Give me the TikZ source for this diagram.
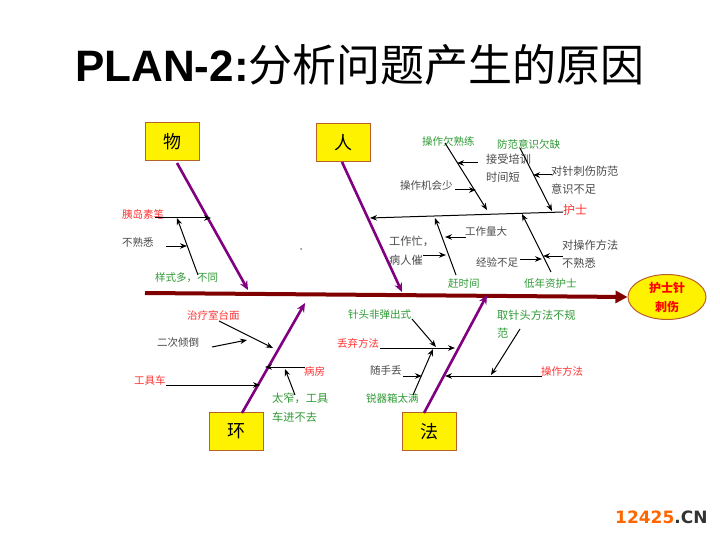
\documentclass[tikz,border=0pt]{standalone}
\usepackage{fontspec}
\setmainfont{Liberation Sans}
\newfontfamily\cjk{Noto Sans CJK SC}
\newfontfamily\wmfont{DejaVu Sans}
\usetikzlibrary{arrows.meta,shapes.geometric}
\definecolor{spinecol}{HTML}{800000}
\definecolor{bonecol}{HTML}{800080}
\definecolor{boxedge}{HTML}{B8602A}
\definecolor{lred}{HTML}{FF3333}
\definecolor{lgreen}{HTML}{2F9A35}
\definecolor{lgray}{HTML}{4A4A4A}
\definecolor{wmorange}{HTML}{FF6600}
\definecolor{wmgray}{HTML}{333333}
\tikzset{
  lab/.style={font=\cjk\fontsize{10.5}{12}\selectfont, inner sep=0pt, anchor=west},
  widelab/.style={lab, font=\cjk\fontsize{11.2}{12}\selectfont},
  rl/.style={text=lred},
  gl/.style={text=lgreen},
  kl/.style={text=lgray},
  arr/.style={draw=black, line width=1pt, -{Stealth[length=7pt,width=5.5pt]}},
  bonearr/.style={draw=bonecol, line width=2.6pt, -{Stealth[length=9pt,width=8pt]}},
  catbox/.style={draw=boxedge, fill=yellow, line width=1pt, minimum width=54pt, minimum height=38pt, inner sep=0pt, font=\cjk\fontsize{18}{20}\selectfont},
}
\begin{document}
\begin{tikzpicture}[x=1pt,y=-1pt]
\useasboundingbox (0,0) rectangle (720,540);
\fill[white] (0,0) rectangle (720,540);

% title
\node[anchor=base west, inner sep=0pt] (title) at (75,82)
  {\fontsize{44}{50}\selectfont\bfseries PLAN-2:{\cjk\mdseries 分析问题产生的原因}};

% spine and effect
\node[ellipse, draw=boxedge, fill=yellow, line width=1pt, minimum width=78pt, minimum height=45pt, inner sep=0pt, align=center, text=red, font=\cjk\bfseries\fontsize{12}{19}\selectfont] (effect) at (667,297) {护士针\\刺伤};
\coordinate (spS) at (145,293);
\draw[draw=spinecol, line width=4pt, -{Triangle[length=12pt,width=12pt]}] (spS) -- (effect.west);

% category boxes
\node[catbox] (wu) at (172,142) {物};
\node[catbox] (ren) at (343.5,142.5) {人};
\node[catbox] (huan) at (236,431.5) {环};
\node[catbox] (fa) at (429,431.5) {法};

% main bones
\coordinate (wuT) at (248,290);
\coordinate (renT) at (402,292);
\coordinate (huanT) at (305,303);
\coordinate (faT) at (487,295);
\coordinate (wuS) at (177,163);
\coordinate (renS) at (342,162);
\coordinate (huanS) at (242,413);
\coordinate (faS) at (424,413);
\draw[bonearr] (wuS) -- (wuT);
\draw[bonearr] (renS) -- (renT);
\draw[bonearr] (huanS) -- (huanT);
\draw[bonearr] (faS) -- (faT);

% ---------- 物 ----------
\node[lab,rl] (w1) at (122,214) {胰岛素笔};
\node[lab,kl] (w2) at (122,242) {不熟悉};
\node[lab,gl] (w3) at (155,278) {样式多，不同};
\coordinate (w1s) at (155,218); \coordinate (w1e) at (211,218);
\coordinate (w2s) at (166,246); \coordinate (w2e) at (187,246);
\coordinate (w3s) at (198,275); \coordinate (w3e) at (177,218);
\draw[arr] (w1s) -- (w1e);
\draw[arr] (w2s) -- (w2e);
\draw[arr] (w3s) -- (w3e);
\fill[lgray!70] (301,249) circle (1pt);

% ---------- 人 ----------
\node[lab,rl,font=\cjk\fontsize{12}{13}\selectfont] (hs) at (563,210) {护士};
\coordinate (hsS) at (563,212); \coordinate (hsE) at (370,218);
\draw[arr] (hsS) -- (hsE);

\node[lab,gl] (r1) at (422,141) {操作欠熟练};
\coordinate (r1s) at (445,143); \coordinate (r1e) at (487,210);
\draw[arr] (r1s) -- (r1e);
\node[widelab,kl] (r1a) at (486,159) {接受培训};
\node[widelab,kl] (r1b) at (486,177) {时间短};
\coordinate (r1as) at (478,163); \coordinate (r1ae) at (457,163);
\draw[arr] (r1as) -- (r1ae);
\node[lab,kl] (r1c) at (400,186) {操作机会少};
\coordinate (r1cs) at (455,190); \coordinate (r1ce) at (476,190);
\draw[arr] (r1cs) -- (r1ce);

\node[lab,gl] (r2) at (497,144) {防范意识欠缺};
\coordinate (r2s) at (520,148); \coordinate (r2e) at (552,211);
\draw[arr] (r2s) -- (r2e);
\node[widelab,kl] (r2a) at (551,171) {对针刺伤防范};
\node[widelab,kl] (r2b) at (551,189) {意识不足};
\coordinate (r2as) at (552,175); \coordinate (r2ae) at (533,175);
\draw[arr] (r2as) -- (r2ae);

\node[lab,gl] (r3) at (448,284) {赶时间};
\coordinate (r3s) at (456,275); \coordinate (r3e) at (435,218);
\draw[arr] (r3s) -- (r3e);
\node[lab,kl] (r3a) at (465,232) {工作量大};
\coordinate (r3as) at (466,237); \coordinate (r3ae) at (445,237);
\draw[arr] (r3as) -- (r3ae);
\node[widelab,kl] (r3b) at (389,241) {工作忙，};
\node[widelab,kl] (r3c) at (389,260) {病人催};
\coordinate (r3bs) at (423,255); \coordinate (r3be) at (446,255);
\draw[arr] (r3bs) -- (r3be);

\node[lab,gl] (r4) at (524,284) {低年资护士};
\coordinate (r4s) at (551,272); \coordinate (r4e) at (522,214);
\draw[arr] (r4s) -- (r4e);
\node[widelab,kl] (r4a) at (562,245) {对操作方法};
\node[widelab,kl] (r4b) at (562,263) {不熟悉};
\coordinate (r4as) at (563,256); \coordinate (r4ae) at (543,256);
\draw[arr] (r4as) -- (r4ae);
\node[lab,kl] (r4c) at (476,262) {经验不足};
\coordinate (r4cs) at (520,259); \coordinate (r4ce) at (542,259);
\draw[arr] (r4cs) -- (r4ce);

% ---------- 环 ----------
\node[lab,rl] (h1) at (187,315) {治疗室台面};
\coordinate (h1s) at (219,321); \coordinate (h1e) at (273,348);
\draw[arr] (h1s) -- (h1e);
\node[lab,kl] (h2) at (157,343) {二次倾倒};
\coordinate (h2s) at (212,347); \coordinate (h2e) at (247,340);
\draw[arr] (h2s) -- (h2e);
\node[lab,rl] (h3) at (304,371) {病房};
\coordinate (h3s) at (305,367); \coordinate (h3e) at (265,367);
\draw[arr] (h3s) -- (h3e);
\node[widelab,gl] (h4a) at (272,398) {太窄，工具};
\node[widelab,gl] (h4b) at (272,417) {车进不去};
\coordinate (h4s) at (295,395); \coordinate (h4e) at (285,369);
\draw[arr] (h4s) -- (h4e);
\node[lab,rl] (h5) at (134,380) {工具车};
\coordinate (h5s) at (166,385); \coordinate (h5e) at (260,385);
\draw[arr] (h5s) -- (h5e);

% ---------- 法 ----------
\node[lab,gl] (f1) at (348,315) {针头非弹出式};
\coordinate (f1s) at (412,319); \coordinate (f1e) at (436,347);
\draw[arr] (f1s) -- (f1e);
\node[lab,rl] (f2) at (337,343) {丢弃方法};
\coordinate (f2s) at (380,348); \coordinate (f2e) at (455,348);
\draw[arr] (f2s) -- (f2e);
\node[lab,kl] (f3) at (370,371) {随手丢};
\coordinate (f3s) at (403,376); \coordinate (f3e) at (422,376);
\draw[arr] (f3s) -- (f3e);
\node[lab,gl] (f4) at (366,398) {锐器箱太满};
\coordinate (f4s) at (413,395); \coordinate (f4e) at (433,349);
\draw[arr] (f4s) -- (f4e);
\node[widelab,gl] (f5a) at (497,315) {取针头方法不规};
\node[widelab,gl] (f5b) at (497,333) {范};
\coordinate (f5s) at (520,329); \coordinate (f5e) at (491,375);
\draw[arr] (f5s) -- (f5e);
\node[lab,rl] (f6) at (541,371) {操作方法};
\coordinate (f6s) at (542,376); \coordinate (f6e) at (445,376);
\draw[arr] (f6s) -- (f6e);

% watermark
\node[anchor=west, inner sep=0pt, font=\wmfont\bfseries\fontsize{17}{20}\selectfont] (wm) at (615,517)
  {\textcolor{wmorange}{12425}\textcolor{wmgray}{.CN}};
\end{tikzpicture}
\end{document}
